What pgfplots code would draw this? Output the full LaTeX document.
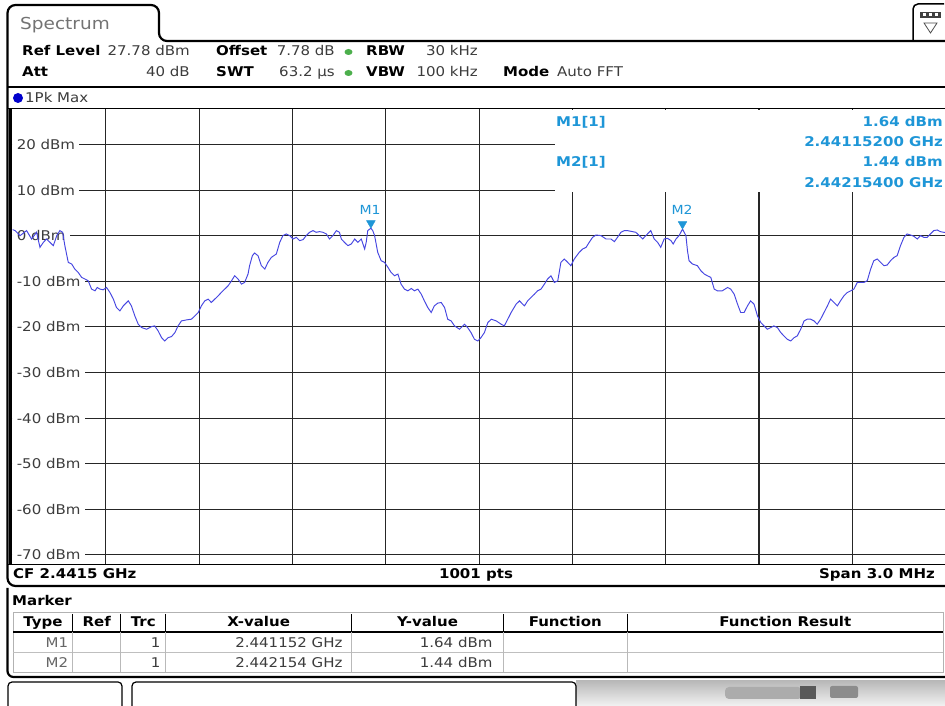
\documentclass[border=0pt]{standalone}
\usepackage{pgfplots}
\pgfplotsset{compat=1.18}
\usepackage{fontspec}
\setmainfont{DejaVu Sans}[FakeStretch=1.12]
\definecolor{tr}{RGB}{70,70,225}
\definecolor{mk}{RGB}{30,150,215}
\definecolor{vg}{RGB}{60,60,60}
\newcommand{\fs}[1]{\fontsize{#1}{#1}\selectfont}
\tikzset{ylab/.style={anchor=west, fill=white, inner xsep=4bp, inner ysep=1bp, text=vg, font=\fs{13.4bp}}}
\begin{document}
\begin{tikzpicture}[x=1bp,y=1bp]
\useasboundingbox (0,0) rectangle (945,706);
\fill[white] (0,0) rectangle (945,706);

\begin{scope}[shift={(12.6,141)}]
\begin{axis}[scale only axis,
  width=933bp, height=456bp,
  xmin=0, xmax=3, ymin=-72.22, ymax=27.78,
  xtick={0.3,0.6,0.9,1.2,1.5,1.8,2.1,2.4,2.7},
  ytick={-70,-60,-50,-40,-30,-20,-10,0,10,20},
  xticklabels={}, yticklabels={},
  grid=major, major grid style={draw=black!85, line width=1.1bp},
  axis line style={draw=none}, tick style={draw=none}]
\node[ylab] at (axis cs:0,20) {20 dBm};
\node[ylab] at (axis cs:0,10) {10 dBm};
\node[ylab] at (axis cs:0,0) {0 dBm};
\node[ylab] at (axis cs:0,-10) {-10 dBm};
\node[ylab] at (axis cs:0,-20) {-20 dBm};
\node[ylab] at (axis cs:0,-30) {-30 dBm};
\node[ylab] at (axis cs:0,-40) {-40 dBm};
\node[ylab] at (axis cs:0,-50) {-50 dBm};
\node[ylab] at (axis cs:0,-60) {-60 dBm};
\node[ylab] at (axis cs:0,-70) {-70 dBm};
\addplot[tr, line width=0.95bp, mark=none] coordinates {
(0,1.33)(0.008,1.11)(0.024,0.0)(0.045,1.11)(0.061,-0.73)(0.077,0.74)(0.088,-2.56)(0.099,-1.46)(0.109,-0.73)(0.120,-1.46)(0.131,-2.19)(0.142,0.01)(0.152,1.11)(0.161,0.74)(0.168,-2.19)(0.179,-5.86)(0.190,-6.22)(0.200,-7.32)(0.211,-8.06)(0.222,-9.15)(0.233,-9.52)(0.243,-9.89)(0.254,-11.72)(0.265,-12.09)(0.272,-11.36)(0.281,-11.72)(0.291,-11.87)(0.302,-11.36)(0.313,-12.46)(0.324,-13.92)(0.334,-15.76)(0.345,-16.49)(0.356,-15.39)(0.372,-14.29)(0.382,-15.39)(0.393,-17.59)(0.404,-19.42)(0.415,-20.15)(0.431,-20.52)(0.447,-19.93)(0.457,-19.79)(0.468,-20.89)(0.479,-22.36)(0.489,-23.09)(0.500,-22.36)(0.511,-22.13)(0.522,-21.25)(0.532,-19.79)(0.543,-18.69)(0.559,-18.47)(0.575,-18.32)(0.586,-17.59)(0.597,-16.85)(0.607,-15.39)(0.618,-14.29)(0.629,-13.92)(0.639,-14.65)(0.650,-13.92)(0.661,-13.19)(0.671,-12.46)(0.682,-11.72)(0.693,-10.99)(0.704,-9.89)(0.714,-8.79)(0.725,-9.52)(0.736,-10.62)(0.746,-10.26)(0.757,-8.42)(0.762,-6.59)(0.771,-4.39)(0.778,-3.80)(0.789,-4.39)(0.800,-6.59)(0.811,-7.32)(0.821,-5.86)(0.832,-4.76)(0.848,-4.02)(0.859,-1.46)(0.869,0.01)(0.880,0.37)(0.891,0.01)(0.902,-0.73)(0.912,-0.36)(0.923,-1.09)(0.934,-0.87)(0.944,0.01)(0.955,0.74)(0.966,1.11)(0.976,0.74)(0.987,0.89)(0.998,0.74)(1.009,0.37)(1.019,-0.73)(1.030,0.01)(1.041,1.11)(1.051,0.74)(1.057,-0.73)(1.067,-1.46)(1.078,-2.19)(1.089,-1.83)(1.100,-0.73)(1.110,-1.46)(1.121,-0.73)(1.132,-2.92)(1.137,-1.46)(1.142,1.11)(1.152,1.64)(1.158,1.11)(1.164,0.01)(1.174,-3.65)(1.185,-5.49)(1.196,-5.86)(1.207,-6.96)(1.217,-8.06)(1.228,-8.79)(1.239,-8.42)(1.249,-10.62)(1.260,-11.72)(1.271,-12.09)(1.282,-11.58)(1.292,-12.09)(1.303,-11.72)(1.314,-12.82)(1.324,-14.29)(1.335,-15.76)(1.346,-16.85)(1.356,-15.39)(1.367,-14.80)(1.378,-14.65)(1.389,-15.76)(1.399,-18.32)(1.410,-18.69)(1.421,-19.79)(1.437,-20.52)(1.453,-19.42)(1.463,-20.15)(1.474,-21.25)(1.485,-22.72)(1.496,-23.09)(1.506,-22.36)(1.517,-21.25)(1.528,-19.06)(1.539,-18.32)(1.555,-18.69)(1.571,-19.42)(1.581,-19.79)(1.592,-18.32)(1.603,-16.85)(1.619,-15.02)(1.630,-14.29)(1.640,-15.02)(1.646,-15.39)(1.656,-14.29)(1.667,-13.55)(1.678,-12.82)(1.688,-12.09)(1.699,-11.72)(1.710,-10.62)(1.720,-9.52)(1.731,-8.79)(1.742,-10.26)(1.753,-9.89)(1.763,-5.86)(1.774,-5.12)(1.785,-5.86)(1.795,-6.59)(1.806,-5.12)(1.822,-3.65)(1.833,-2.92)(1.844,-2.56)(1.854,-1.46)(1.865,-0.36)(1.876,0.15)(1.892,0.01)(1.908,-0.73)(1.924,-0.73)(1.935,-1.31)(1.945,-0.36)(1.956,0.74)(1.967,1.11)(1.977,1.11)(1.993,0.89)(2.004,0.74)(2.015,0.01)(2.026,-0.73)(2.036,0.01)(2.052,1.11)(2.063,-0.73)(2.074,-1.46)(2.084,-2.56)(2.095,-0.73)(2.106,-0.58)(2.117,-1.09)(2.124,-1.83)(2.133,-0.73)(2.143,0.01)(2.154,1.44)(2.165,0.01)(2.170,-3.29)(2.175,-5.49)(2.186,-6.22)(2.202,-6.59)(2.213,-7.69)(2.224,-8.42)(2.234,-8.79)(2.245,-9.15)(2.256,-11.72)(2.266,-12.09)(2.282,-12.09)(2.299,-11.36)(2.309,-11.72)(2.320,-12.82)(2.331,-15.02)(2.341,-16.85)(2.352,-16.85)(2.363,-15.39)(2.373,-14.29)(2.384,-15.02)(2.395,-17.59)(2.406,-19.06)(2.416,-19.79)(2.427,-20.52)(2.438,-20.15)(2.448,-19.79)(2.459,-20.15)(2.470,-21.25)(2.480,-21.98)(2.491,-22.72)(2.502,-23.09)(2.513,-22.36)(2.523,-21.98)(2.534,-20.52)(2.545,-18.69)(2.555,-18.32)(2.566,-18.32)(2.577,-18.69)(2.587,-19.42)(2.598,-18.32)(2.609,-16.85)(2.620,-15.39)(2.630,-13.92)(2.641,-14.65)(2.652,-15.39)(2.662,-14.29)(2.673,-13.19)(2.684,-12.46)(2.695,-12.09)(2.705,-11.72)(2.716,-10.26)(2.727,-10.26)(2.737,-10.26)(2.748,-9.89)(2.759,-7.32)(2.769,-5.49)(2.780,-5.12)(2.791,-5.86)(2.802,-6.59)(2.812,-6.44)(2.823,-5.49)(2.834,-4.76)(2.844,-4.39)(2.855,-2.19)(2.866,-0.36)(2.876,0.37)(2.887,0.15)(2.898,-0.14)(2.909,-0.73)(2.919,0.01)(2.930,-0.36)(2.941,-0.36)(2.951,0.37)(2.962,1.11)(2.973,1.25)(2.983,0.89)(2.994,0.74)(3.0,0.74)
};
\addplot[only marks, mark=triangle*, mark size=5bp, mark options={draw=mk, fill=mk, yshift=5bp, rotate=180}] coordinates {(1.152,1.64) (2.154,1.44)};
\end{axis}
\end{scope}

\begin{scope}[every node/.style={inner sep=0pt, font=\fs{13.4bp}}]
% marker info box
\fill[white] (555,706-110) rectangle (945,706-192.5);
\node[anchor=base west, text=mk, font=\fs{13.4bp}\bfseries] at (556,706-126.7) {M1[1]};
\node[anchor=base east, text=mk, font=\fs{13.4bp}\bfseries] at (943,706-126.7) {1.64 dBm};
\node[anchor=base east, text=mk, font=\fs{13.4bp}\bfseries] at (943,706-146.7) {2.44115200 GHz};
\node[anchor=base west, text=mk, font=\fs{13.4bp}\bfseries] at (556,706-166.7) {M2[1]};
\node[anchor=base east, text=mk, font=\fs{13.4bp}\bfseries] at (943,706-166.7) {1.44 dBm};
\node[anchor=base east, text=mk, font=\fs{13.4bp}\bfseries] at (943,706-187.3) {2.44215400 GHz};
\node[anchor=base, text=mk, font=\fs{12.5bp}] at (370,706-215) {M1};
\node[anchor=base, text=mk, font=\fs{12.5bp}] at (682,706-215) {M2};

% frames
\draw[line width=2.2bp, rounded corners=8bp] (945,706-41) -- (159,706-41) -- (159,706-5) -- (7.5,706-5) -- (7.5,706-586) -- (945,706-586);
\draw[line width=2bp] (7.5,706-87) -- (945,706-87);
\draw[line width=1.5bp] (7.5,706-108.5) -- (945,706-108.5);
\draw[line width=3bp] (10.5,706-108.5) -- (10.5,706-565);
\draw[line width=1.3bp] (7.5,706-564.5) -- (945,706-564.5);
\draw[line width=2.2bp, rounded corners=6bp] (7.5,706-588) -- (7.5,706-677) -- (945,706-677);

% top-right icon
\draw[line width=1.5bp, rounded corners=5bp] (913,706-41) -- (913,706-4) -- (944,706-4);
\fill[black!75] (920,706-12) rectangle (941,706-18);
\fill[white] (923,706-13.5) rectangle (926,706-16.5);
\fill[white] (929,706-13.5) rectangle (932,706-16.5);
\fill[white] (935,706-13.5) rectangle (938,706-16.5);
\draw[line width=0.8bp, black!70] (924,706-23) -- (937,706-23) -- (930.5,706-33) -- cycle;

% header text
\node[anchor=base west, text=black!55, font=\fs{16.5bp}] at (20,706-30) {Spectrum};
\node[anchor=base west, font=\fs{13.4bp}\bfseries] at (22,706-56) {Ref Level};
\node[anchor=base east, text=vg] at (190,706-56) {27.78 dBm};
\node[anchor=base west, font=\fs{13.4bp}\bfseries] at (216,706-56) {Offset};
\node[anchor=base east, text=vg] at (335,706-56) {7.78 dB};
\node[anchor=base west, font=\fs{13.4bp}\bfseries] at (366,706-56) {RBW};
\node[anchor=base east, text=vg] at (478,706-56) {30 kHz};
\node[anchor=base west, font=\fs{13.4bp}\bfseries] at (22,706-77) {Att};
\node[anchor=base east, text=vg] at (190,706-77) {40 dB};
\node[anchor=base west, font=\fs{13.4bp}\bfseries] at (216,706-77) {SWT};
\node[anchor=base east, text=vg] at (335,706-77) {63.2 µs};
\node[anchor=base west, font=\fs{13.4bp}\bfseries] at (366,706-77) {VBW};
\node[anchor=base east, text=vg] at (478,706-77) {100 kHz};
\node[anchor=base west, font=\fs{13.4bp}\bfseries] at (503,706-77) {Mode};
\node[anchor=base west, text=vg] at (557,706-77) {Auto FFT};
\fill[green!55!black!70] (348.5,706-52) ellipse (4bp and 3bp);
\fill[green!55!black!70] (348.5,706-73) ellipse (4bp and 3bp);
\fill[blue!80!black] (18,706-98) circle (5bp);
\node[anchor=base west, text=vg] at (25,706-102.7) {1Pk Max};

% bottom of plot
\node[anchor=base west, font=\fs{13.4bp}\bfseries] at (13,706-578.3) {CF 2.4415 GHz};
\node[anchor=base, font=\fs{13.4bp}\bfseries] at (476,706-578.3) {1001 pts};
\node[anchor=base east, font=\fs{13.4bp}\bfseries] at (935,706-578.3) {Span 3.0 MHz};

% marker table
\node[anchor=base west, font=\fs{13.4bp}\bfseries] at (12,706-605.5) {Marker};
\draw[gray!60, line width=0.8bp] (13,706-612) rectangle (943,706-672);
\draw[gray!50, line width=0.8bp] (13,706-652) -- (943,706-652);
\draw[black, line width=1.5bp] (13,706-632) -- (943,706-632);
\foreach \cx in {72.7,120.7,165.7,351.7,503.3,627.3} {
  \draw[black, line width=1.3bp] (\cx,706-614) -- (\cx,706-631);
  \draw[gray!55, line width=0.8bp] (\cx,706-632) -- (\cx,706-672);
}
\node[anchor=base, font=\fs{13.4bp}\bfseries] at (43,706-627) {Type};
\node[anchor=base, font=\fs{13.4bp}\bfseries] at (96.7,706-627) {Ref};
\node[anchor=base, font=\fs{13.4bp}\bfseries] at (143.2,706-627) {Trc};
\node[anchor=base, font=\fs{13.4bp}\bfseries] at (258.7,706-627) {X-value};
\node[anchor=base, font=\fs{13.4bp}\bfseries] at (427.5,706-627) {Y-value};
\node[anchor=base, font=\fs{13.4bp}\bfseries] at (565.3,706-627) {Function};
\node[anchor=base, font=\fs{13.4bp}\bfseries] at (785.3,706-627) {Function Result};
\node[anchor=base east, text=black!60] at (68.3,706-647.3) {M1};
\node[anchor=base east, text=vg] at (160.5,706-647.3) {1};
\node[anchor=base east, text=vg] at (342.7,706-647.3) {2.441152 GHz};
\node[anchor=base east, text=vg] at (492.7,706-647.3) {1.64 dBm};
\node[anchor=base east, text=black!60] at (68.3,706-668) {M2};
\node[anchor=base east, text=vg] at (160.5,706-668) {1};
\node[anchor=base east, text=vg] at (342.7,706-668) {2.442154 GHz};
\node[anchor=base east, text=vg] at (492.7,706-668) {1.44 dBm};

% bottom strip
\shade[top color=gray!55, bottom color=gray!10] (576,706-681) rectangle (945,706-706);
\draw[line width=1.2bp, rounded corners=4bp] (8,0) -- (8,706-682) -- (122,706-682) -- (122,0);
\draw[line width=1.2bp, rounded corners=4bp] (132,0) -- (132,706-682) -- (576,706-682) -- (576,0);
\fill[gray!65, rounded corners=4bp] (725,706-687) rectangle (802,706-699);
\fill[black!65] (800,706-686) rectangle (816,706-699);
\fill[black!45, rounded corners=2bp] (830,706-686) rectangle (858,706-698);
\end{scope}
\end{tikzpicture}
\end{document}
